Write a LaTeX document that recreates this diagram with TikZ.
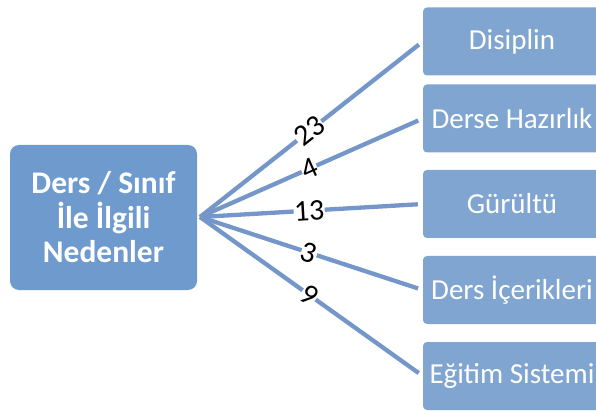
\documentclass[tikz,border=0pt]{standalone}
\usepackage{fontspec}
\setmainfont{Carlito}
\definecolor{mainblue}{RGB}{110,154,206}
\definecolor{itemblue}{RGB}{128,165,208}
\definecolor{linkblue}{RGB}{116,150,201}
\begin{document}
\begin{tikzpicture}[x=1pt,y=-1pt,
 mainbox/.style={rounded corners=9pt, fill=mainblue, text=white,
   font=\bfseries\fontsize{31.5}{34.5}\selectfont, align=center,
   minimum width=187pt, minimum height=145pt, inner sep=0pt},
 itembox/.style={rounded corners=4pt, fill=itemblue, text=white,
   font=\fontsize{29}{30}\selectfont,
   minimum width=178pt, minimum height=68pt, inner sep=0pt},
 link/.style={draw=linkblue, line width=4.3pt, shorten >=5pt},
 lbl/.style={fill=white, inner sep=0.3pt, font=\fontsize{30}{30}\selectfont, sloped, pos=0.49}
]
\useasboundingbox (0,0) rectangle (596,411);
\clip (0,0) rectangle (596,411);
\node[mainbox] (main) at (103.5,217.5) {Ders / Sınıf\\İle İlgili\\Nedenler};
\coordinate (apex) at (200,217);
\node[itembox] (b1) at (512,41.5) {Disiplin};
\node[itembox] (b2) at (512,118.5) {Derse Hazırlık};
\node[itembox] (b3) at (512,204) {Gürültü};
\node[itembox] (b4) at (512,290) {Ders İçerikleri};
\node[itembox] (b5) at (512,376) {Eğitim Sistemi};
\draw[link] (apex) -- (b1.west) node[lbl] {23};
\draw[link] (apex) -- (b2.west) node[lbl] {4};
\draw[link] (apex) -- (b3.west) node[lbl] {13};
\draw[link] (apex) -- (b4.west) node[lbl] {3};
\draw[link] (apex) -- (b5.west) node[lbl] {9};
\end{tikzpicture}
\end{document}
